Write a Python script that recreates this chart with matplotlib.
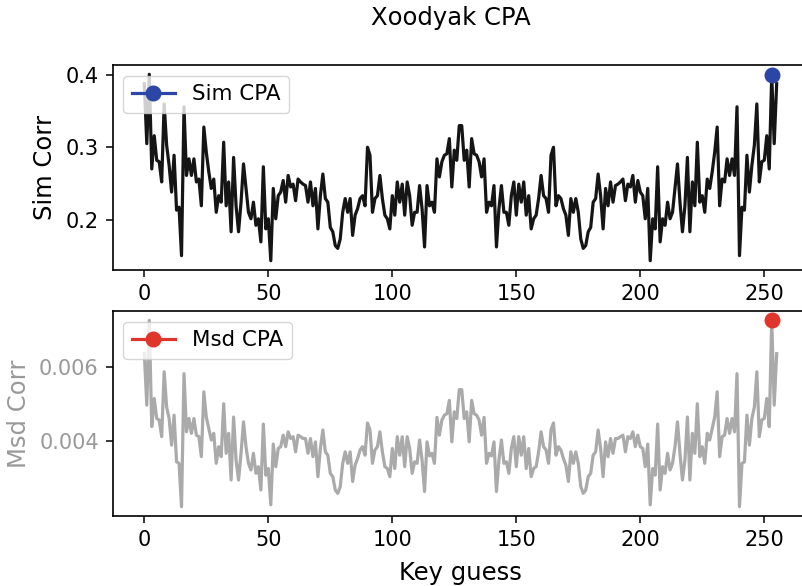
import numpy as np
import matplotlib
matplotlib.use("Agg")
import matplotlib.pyplot as plt

# ---------------- data ----------------
title = "Xoodyak CPA"
xlabel = "Key guess"
sim_label = "Sim Corr"
msd_label = "Msd Corr"
sim_legend = "Sim CPA"
msd_legend = "Msd CPA"
best_key = 253

x_ticks = [0, 50, 100, 150, 200, 250]
sim_ticks = [0.2, 0.3, 0.4]
msd_ticks = [0.004, 0.006]

sim_corr = [
    0.388, 0.305, 0.401, 0.270, 0.316, 0.282, 0.280, 0.252, 0.360, 0.303,
    0.275, 0.238, 0.289, 0.213, 0.217, 0.150, 0.356, 0.261, 0.284, 0.261,
    0.284, 0.252, 0.256, 0.219, 0.328, 0.293, 0.266, 0.243, 0.256, 0.210,
    0.233, 0.224, 0.307, 0.219, 0.252, 0.183, 0.286, 0.219, 0.183, 0.224,
    0.277, 0.243, 0.210, 0.201, 0.224, 0.192, 0.201, 0.169, 0.273, 0.187,
    0.201, 0.143, 0.243, 0.201, 0.233, 0.238, 0.254, 0.224, 0.261, 0.245,
    0.249, 0.226, 0.256, 0.252, 0.249, 0.247, 0.224, 0.252, 0.219, 0.243,
    0.187, 0.233, 0.263, 0.229, 0.224, 0.189, 0.183, 0.164, 0.160, 0.173,
    0.210, 0.229, 0.210, 0.229, 0.178, 0.206, 0.215, 0.229, 0.233, 0.219,
    0.300, 0.289, 0.210, 0.229, 0.233, 0.261, 0.229, 0.206, 0.201, 0.187,
    0.233, 0.206, 0.252, 0.224, 0.249, 0.206, 0.252, 0.233, 0.192, 0.210,
    0.210, 0.247, 0.215, 0.162, 0.247, 0.219, 0.224, 0.210, 0.284, 0.259,
    0.280, 0.289, 0.291, 0.312, 0.245, 0.296, 0.282, 0.330,
    0.330, 0.282, 0.296, 0.245, 0.312, 0.291, 0.289, 0.280,
    0.259, 0.284, 0.210, 0.224, 0.219, 0.247, 0.162, 0.215, 0.247, 0.210,
    0.210, 0.192, 0.233, 0.252, 0.206, 0.249, 0.224, 0.252, 0.206, 0.233,
    0.187, 0.201, 0.206, 0.229, 0.261, 0.233, 0.229, 0.210, 0.289, 0.300,
    0.219, 0.233, 0.229, 0.215, 0.206, 0.178, 0.229, 0.210, 0.229, 0.210,
    0.173, 0.160, 0.164, 0.183, 0.189, 0.224, 0.229, 0.263, 0.233, 0.187,
    0.243, 0.219, 0.252, 0.224, 0.247, 0.249, 0.252, 0.256, 0.226, 0.249,
    0.245, 0.261, 0.224, 0.254, 0.238, 0.233, 0.201, 0.243, 0.143, 0.201,
    0.187, 0.273, 0.169, 0.201, 0.192, 0.224, 0.201, 0.210, 0.243, 0.277,
    0.224, 0.183, 0.219, 0.286, 0.183, 0.252, 0.219, 0.307, 0.224, 0.233,
    0.210, 0.256, 0.243, 0.266, 0.293, 0.328, 0.219, 0.256, 0.252, 0.284,
    0.261, 0.284, 0.261, 0.356, 0.150, 0.217, 0.213, 0.289, 0.238, 0.275,
    0.303, 0.360, 0.252, 0.280, 0.282, 0.316, 0.270, 0.400, 0.305, 0.388,
]

msd_corr = [
    0.00636, 0.00497, 0.00726, 0.00439, 0.00515, 0.00461, 0.00457, 0.00412, 0.00587, 0.00492,
    0.00461, 0.00389, 0.00470, 0.00344, 0.00340, 0.00223, 0.00582, 0.00425, 0.00461, 0.00421,
    0.00461, 0.00416, 0.00412, 0.00358, 0.00533, 0.00465, 0.00434, 0.00403, 0.00421, 0.00340,
    0.00385, 0.00358, 0.00501, 0.00367, 0.00421, 0.00295, 0.00465, 0.00349, 0.00295, 0.00367,
    0.00452, 0.00385, 0.00340, 0.00322, 0.00367, 0.00313, 0.00331, 0.00268, 0.00446, 0.00308,
    0.00326, 0.00228, 0.00392, 0.00331, 0.00380, 0.00385, 0.00416, 0.00385, 0.00425, 0.00407,
    0.00412, 0.00371, 0.00416, 0.00412, 0.00407, 0.00407, 0.00367, 0.00407, 0.00358, 0.00398,
    0.00304, 0.00380, 0.00430, 0.00371, 0.00362, 0.00313, 0.00304, 0.00268, 0.00259, 0.00277,
    0.00340, 0.00371, 0.00340, 0.00371, 0.00291, 0.00335, 0.00353, 0.00376, 0.00385, 0.00362,
    0.00449, 0.00430, 0.00340, 0.00376, 0.00385, 0.00425, 0.00371, 0.00331, 0.00326, 0.00304,
    0.00380, 0.00326, 0.00412, 0.00362, 0.00412, 0.00331, 0.00412, 0.00380, 0.00313, 0.00344,
    0.00340, 0.00403, 0.00349, 0.00264, 0.00398, 0.00360, 0.00367, 0.00340, 0.00464, 0.00416,
    0.00457, 0.00470, 0.00474, 0.00510, 0.00398, 0.00479, 0.00461, 0.00539,
    0.00539, 0.00461, 0.00479, 0.00398, 0.00510, 0.00474, 0.00470, 0.00457,
    0.00416, 0.00464, 0.00340, 0.00367, 0.00360, 0.00398, 0.00264, 0.00349, 0.00403, 0.00340,
    0.00344, 0.00313, 0.00380, 0.00412, 0.00331, 0.00412, 0.00362, 0.00412, 0.00326, 0.00380,
    0.00304, 0.00326, 0.00331, 0.00371, 0.00425, 0.00385, 0.00376, 0.00340, 0.00430, 0.00449,
    0.00362, 0.00385, 0.00376, 0.00353, 0.00335, 0.00291, 0.00371, 0.00340, 0.00371, 0.00340,
    0.00277, 0.00259, 0.00268, 0.00304, 0.00313, 0.00362, 0.00371, 0.00430, 0.00380, 0.00304,
    0.00398, 0.00358, 0.00407, 0.00367, 0.00407, 0.00407, 0.00412, 0.00416, 0.00371, 0.00412,
    0.00407, 0.00425, 0.00385, 0.00416, 0.00385, 0.00380, 0.00331, 0.00392, 0.00228, 0.00326,
    0.00308, 0.00446, 0.00268, 0.00331, 0.00313, 0.00367, 0.00322, 0.00340, 0.00385, 0.00452,
    0.00367, 0.00295, 0.00349, 0.00465, 0.00295, 0.00421, 0.00367, 0.00501, 0.00358, 0.00385,
    0.00340, 0.00421, 0.00403, 0.00434, 0.00465, 0.00533, 0.00358, 0.00412, 0.00416, 0.00461,
    0.00421, 0.00461, 0.00425, 0.00582, 0.00223, 0.00340, 0.00344, 0.00470, 0.00389, 0.00461,
    0.00492, 0.00587, 0.00412, 0.00457, 0.00461, 0.00515, 0.00439, 0.00726, 0.00497, 0.00636,
]

# ---------------- styling ----------------
plt.rcParams['font.family'] = ['DejaVu Sans']
SIM_COLOR = '#151515'
MSD_COLOR = '#aaaaaa'
BLUE = '#2b46a6'
RED = '#e0352b'
TICK_FS = 15
LABEL_FS = 17.5
LEG_FS = 15.4
LW = 2.3

keys = np.arange(len(sim_corr))
sim = np.array(sim_corr)
msd = np.array(msd_corr)

fig = plt.figure(figsize=(8.03, 5.86), dpi=100)
W, H = 803.0, 586.0
left_px, right_px = 112.7, 808.3
ax1 = fig.add_axes([left_px / W, 1 - 270 / H, (right_px - left_px) / W, 205 / H])
ax2 = fig.add_axes([left_px / W, 1 - 516 / H, (right_px - left_px) / W, 205 / H])

ax1.plot(keys, sim, color=SIM_COLOR, lw=LW, zorder=2)
ax1.plot([keys[best_key]], [sim[best_key]], marker='o', ls='-', lw=LW,
         color=BLUE, ms=10.5, label=sim_legend, zorder=3)
ax2.plot(keys, msd, color=MSD_COLOR, lw=LW, zorder=2)
ax2.plot([keys[best_key]], [msd[best_key]], marker='o', ls='-', lw=LW,
         color=RED, ms=10.5, label=msd_legend, zorder=3)

for ax in (ax1, ax2):
    ax.set_xticks(x_ticks)
    ax.tick_params(direction='out', length=5, width=1.1, labelsize=TICK_FS, pad=5)
    for s in ax.spines.values():
        s.set_linewidth(1.2)
    ax.legend(loc='upper left', fontsize=LEG_FS, framealpha=0.8,
              handlelength=2.0, borderaxespad=0.5)

ax1.set_yticks(sim_ticks)
ax2.set_yticks(msd_ticks)
ax2.tick_params(axis='y', labelcolor='#999999')

ax1.set_ylabel(sim_label, fontsize=LABEL_FS, labelpad=6)
ax2.set_ylabel(msd_label, fontsize=LABEL_FS, color='#999999', labelpad=6)
ax2.set_xlabel(xlabel, fontsize=LABEL_FS, labelpad=8)

fig.text(451 / W, 1 - 25 / H, title, ha='center', va='baseline', fontsize=LABEL_FS)

fig.savefig('out.png', dpi=100)
